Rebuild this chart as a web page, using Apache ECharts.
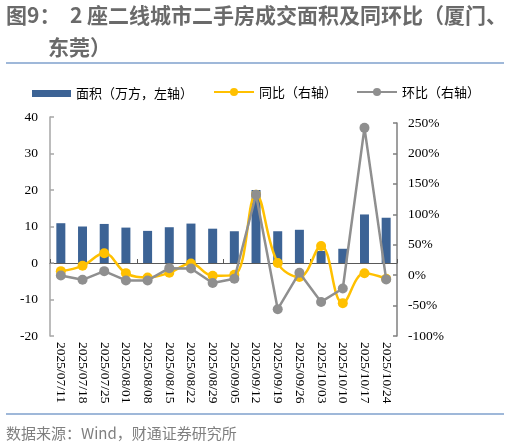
<!DOCTYPE html>
<html>
<head>
<meta charset="utf-8">
<script src="https://cdn.jsdelivr.net/npm/echarts@6/dist/echarts.min.js"></script>
<style>
html,body{margin:0;padding:0;background:#fff;}
#c{width:510px;height:445px;}
</style>
</head>
<body>
<div id="c"></div>
<script>
const categories = ['2025/07/11','2025/07/18','2025/07/25','2025/08/01','2025/08/08','2025/08/15','2025/08/22','2025/08/29','2025/09/05','2025/09/12','2025/09/19','2025/09/26','2025/10/03','2025/10/10','2025/10/17','2025/10/24'];
const areaValues = [10.9, 10.0, 10.7, 9.7, 8.8, 9.8, 10.8, 9.4, 8.7, 20.0, 8.7, 9.1, 3.3, 3.9, 13.3, 12.4];
const yoyValues = [6.6, 15.3, 36, 3.3, -3.8, 3.8, 19, -1, 0.5, 132, 20, -3, 48, -46, 3, -6];
const momValues = [-0.5, -7.7, 6.6, -8.7, -8.7, 11.5, 11, -13, -6, 132, -56, 4, -44, -22, 242, -7];
const leftTicks = {min: -20, max: 40, interval: 10};
const rightTicks = {min: -100, max: 250, interval: 50};
const seriesNames = ['面积（万方，左轴）', '同比（右轴）', '环比（右轴）'];

const serif = '"Liberation Serif", "DejaVu Serif", serif';
const cjk = '"Noto Sans CJK SC", "Noto Sans", sans-serif';
const chart = echarts.init(document.getElementById('c'), null, {renderer: 'canvas'});
const G = {left: 50, right: 113, bottom: 109};
chart.setOption({
  animation: false,
  backgroundColor: '#fff',
  graphic: [
    {type: 'text', x: 6, y: 15, style: {text: '图9：  2 座二线城市二手房成交面积及同环比（厦门、', fill: '#6a6a6a', font: 'bold 21px ' + cjk, verticalAlign: 'middle'}},
    {type: 'text', x: 48, y: 47, style: {text: '东莞）', fill: '#6a6a6a', font: 'bold 21px ' + cjk, verticalAlign: 'middle'}},
    {type: 'line', shape: {x1: 6, y1: 63, x2: 504, y2: 63}, style: {stroke: '#7fa1cc', lineWidth: 1.5}},
    {type: 'line', shape: {x1: 6, y1: 414, x2: 504, y2: 414}, style: {stroke: '#7fa1cc', lineWidth: 1.5}},
    {type: 'text', x: 6, y: 433, style: {text: '数据来源：Wind，财通证券研究所', fill: '#7f7f7f', font: '15px ' + cjk, verticalAlign: 'middle'}}
  ],
  legend: [
    {data: [seriesNames[0]], left: 27, top: 82, itemWidth: 39, itemHeight: 7, icon: 'rect',
     textStyle: {fontSize: 13, color: '#000', fontFamily: cjk}},
    {data: [seriesNames[1], seriesNames[2]], left: 208, top: 80.5, itemWidth: 40, itemHeight: 10, itemGap: 19,
     textStyle: {fontSize: 13, color: '#000', fontFamily: cjk}}
  ],
  grid: [
    {left: G.left, right: G.right, top: 117, bottom: G.bottom},
    {left: G.left, right: G.right, top: 123, bottom: G.bottom}
  ],
  xAxis: [
    {type: 'category', gridIndex: 0, data: categories, boundaryGap: true,
     axisLine: {onZero: true, lineStyle: {color: '#595959', width: 1}},
     axisTick: {show: true, inside: true, length: 4, lineStyle: {color: '#595959'}},
     axisLabel: {show: false}, splitLine: {show: false}},
    {type: 'category', gridIndex: 1, data: categories, boundaryGap: true, position: 'bottom',
     axisLine: {show: false, onZero: false}, axisTick: {show: false},
     axisLabel: {rotate: -90, interval: 0, margin: 6, fontFamily: serif, fontSize: 13.5, color: '#000'},
     splitLine: {show: false}}
  ],
  yAxis: [
    {type: 'value', gridIndex: 0, position: 'left', min: leftTicks.min, max: leftTicks.max, interval: leftTicks.interval,
     axisLine: {show: true, lineStyle: {color: '#a6a6a6', width: 1.5}},
     axisTick: {show: true, inside: true, length: 4, lineStyle: {color: '#a6a6a6', width: 1.5}},
     axisLabel: {margin: 12, fontFamily: serif, fontSize: 13.5, color: '#000'},
     splitLine: {show: false}},
    {type: 'value', gridIndex: 1, position: 'right', min: rightTicks.min, max: rightTicks.max, interval: rightTicks.interval,
     axisLine: {show: true, lineStyle: {color: '#7f7f7f', width: 1.5}},
     axisTick: {show: true, inside: true, length: 4, lineStyle: {color: '#7f7f7f', width: 1.5}},
     axisLabel: {margin: 11, fontFamily: serif, fontSize: 13.5, color: '#000', formatter: '{value}%'},
     splitLine: {show: false}}
  ],
  series: [
    {name: seriesNames[0], type: 'bar', xAxisIndex: 0, yAxisIndex: 0, data: areaValues, barWidth: 9,
     itemStyle: {color: '#3c6395'}, z: 2},
    {name: seriesNames[1], type: 'line', xAxisIndex: 1, yAxisIndex: 1, data: yoyValues, smooth: 0.4,
     symbol: 'circle', symbolSize: 10, itemStyle: {color: '#ffc000'}, lineStyle: {color: '#ffc000', width: 2.5}, z: 3},
    {name: seriesNames[2], type: 'line', xAxisIndex: 1, yAxisIndex: 1, data: momValues, smooth: false,
     symbol: 'circle', symbolSize: 10, itemStyle: {color: '#8f8f8f'}, lineStyle: {color: '#8f8f8f', width: 2.5}, z: 4}
  ]
});
</script>
</body>
</html>
